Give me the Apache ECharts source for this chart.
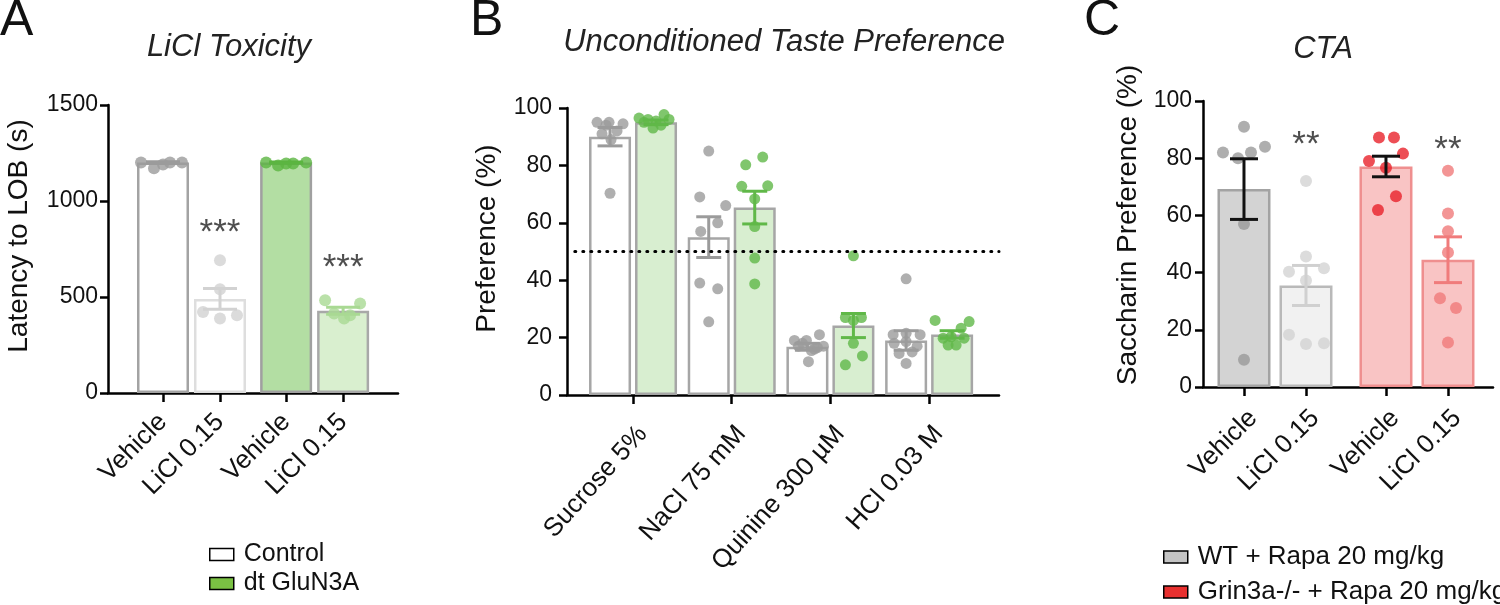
<!DOCTYPE html>
<html>
<head>
<meta charset="utf-8">
<script src="https://cdn.jsdelivr.net/npm/echarts@6/dist/echarts.min.js"></script>
<style>
html,body{margin:0;padding:0;background:#fff;}
#main{width:1500px;height:605px;}
</style>
</head>
<body>
<div id="main"></div>
<script>
/* ---------- A: LiCl toxicity ---------- */
var labelsA = ["Vehicle", "LiCl 0.15", "Vehicle", "LiCl 0.15"];
var meanA = [1200, 490, 1200, 428];
var semA = [4, 54, 3, 18];
var ptsA = [
	[1200, 1170, 1190, 1200, 1200],
	[692, 540, 422, 405, 388],
	[1200, 1185, 1195, 1200, 1195],
	[483, 466, 414, 388, 405]
];
var jitA = [
	[-22, -9, 0, 7, 19],
	[0, 0, -17, 17, 0],
	[-20, -8, 7, 20, 0],
	[-18, 17, -9, 1, 7]
];
var starsA = ["", "***", "", "***"];
var starValA = [0, 830, 0, 648];

/* ---------- B: unconditioned taste preference ---------- */
var labelsB = ["Sucrose 5%", "NaCl 75 mM", "Quinine 300 µM", "HCl 0.03 M"];
var meanCtrlB = [90, 55, 16.8, 19];
var semCtrlB = [3.2, 7.1, 1.2, 3.4];
var meanGreenB = [95, 65.3, 24.2, 21.1];
var semGreenB = [0.8, 5.7, 4.2, 1.3];
var ptsCtrlB = [
	[95, 95, 94.5, 94, 92, 91, 89, 70.3],
	[85, 69, 66, 60, 57, 39, 37, 25.5],
	[19, 19, 21, 17, 16, 17, 15.5, 11.6, 18, 16.5],
	[40.5, 21, 21.5, 21, 18, 17, 18.6, 14.5, 15, 11]
];
var jitCtrlB = [
	[-13, -1, 13, -4, 7, -8, 1, 0],
	[0, -9, 17, 9, -8, -9, 9, 0],
	[-13, -1, 12, -9, 7, 16, 4, 1, -5, 10],
	[0, -13, 0, 14, -12, 11, 0, -7, 6, 0]
];
var ptsGreenB = [
	[96.5, 96, 95.5, 97.7, 96, 93, 94, 95],
	[80.2, 82.9, 72.7, 72.9, 68.3, 58.7, 47.7, 38.7],
	[48.5, 27, 27, 26, 18, 13.6, 10.5],
	[26, 25.6, 23.3, 19.8, 20.3, 19.8, 17.4, 17.4]
];
var jitGreenB = [
	[-17, -8, 0, 8, 13, -3, 5, -12],
	[-9, 8, -13, 13, 0, 0, 0, 0],
	[0, -8, 8, 0, 0, 9, -8],
	[-17, 17, 9, -9, -1, 12, -4, 4]
];
var chanceB = 50;

/* ---------- C: CTA ---------- */
var labelsC = ["Vehicle", "LiCl 0.15", "Vehicle", "LiCl 0.15"];
var meanC = [69.2, 35.5, 77.1, 44.5];
var semC = [10.6, 7, 3.6, 8];
var ptsC = [
	[91, 82, 80, 82, 84, 57, 9.5],
	[72, 45.6, 40.3, 41.5, 37.2, 18.3, 15, 15.3],
	[87.2, 87.2, 79, 81.6, 76.7, 66.7, 61.9],
	[75.6, 60.7, 54.5, 47, 31, 27.6, 15.6]
];
var jitC = [
	[0, -21, -6, 7, 21, 0, 0],
	[0, 0, -17, 18, 0, -17, 0, 18],
	[-7, 8, -17, 17, 0, 10, -8],
	[0, 0, 0, 0, -8, 8, 0]
];
var starsC = ["", "**", "", "**"];
var starValC = [0, 84.5, 0, 82.8];

/* ---------- layout / style ---------- */
var FONT = "Liberation Sans, Arial, Helvetica, sans-serif";
var posA = [0, 1, 2.16, 3.16], unitA = 57;
var posB = [0, 1, 2, 3], unitB = 98.7, offB = 0.233;
var posC = [0, 1, 2.29, 3.29], unitC = 62;

var fillA = ["#ffffff", "#ffffff", "#b3dea3", "#d9efcf"];
var borderA = ["#a3a3a3", "#dedede", "#a0a0a0", "#a8a8a8"];
var dotA = ["#9b9b9b", "#d2d2d2", "#5bb541", "#a9d993"];
var fillC = ["#d3d3d3", "#f1f1f1", "#f9c4c4", "#f9c4c4"];
var borderC = ["#a3a3a3", "#b9b9b9", "#ef8f8f", "#ef8f8f"];
var dotC = ["#9a9a9a", "#d3d3d3", "#e8222b", "#f07b7b"];
var errC = ["#111111", "#d0d0d0", "#111111", "#f07b7b"];

var grids = [
	{left: 108, top: 105, width: 290, height: 288},
	{left: 567, top: 108, width: 432, height: 287},
	{left: 1203, top: 101, width: 290, height: 286}
];

// lab: label style overrides (rotate, size, margin, vertical align)
function xAxisOf(gi, pos, labels, min, max, lab) {
	return {
		type: "value", gridIndex: gi, min: min, max: max,
		axisLine: {show: true, onZero: false, lineStyle: {color: "#000", width: 2.5}},
		axisTick: {show: true, length: 9, customValues: pos, lineStyle: {color: "#000", width: 2.5}},
		axisLabel: {
			customValues: pos, rotate: lab.rotate, margin: lab.margin, fontSize: lab.size,
			verticalAlign: lab.valign, color: "#111", fontFamily: FONT,
			formatter: function (v) {
				for (var i = 0; i < pos.length; i++) {
					if (Math.abs(pos[i] - v) < 0.01) return labels[i];
				}
				return "";
			}
		},
		splitLine: {show: false}
	};
}

function yAxisOf(gi, max, interval, name, gap, lift, margin) {
	return {
		type: "value", gridIndex: gi, min: 0, max: max, interval: interval,
		name: name, nameLocation: "middle", nameGap: gap,
		nameTextStyle: {fontSize: 28, color: "#111", fontFamily: FONT, padding: [0, 0, 0, lift * 2]},
		axisLine: {show: true, onZero: false, lineStyle: {color: "#000", width: 2.5}},
		axisTick: {show: true, length: 8, lineStyle: {color: "#000", width: 2.5}},
		axisLabel: {fontSize: 23, color: "#111", fontFamily: FONT, margin: margin,
			formatter: function (v) { return String(v); }},
		splitLine: {show: false}
	};
}

// bar + points + error bar for one group
var series = [];
var barSets = {};
function addGroup(gi, legendName, x, mean, sem, pts, jit, unit, fill, border, dot, err, dotSize, capPx) {
	var key = gi + "|" + legendName;
	if (!barSets[key]) {
		barSets[key] = {
			type: "bar", name: legendName, xAxisIndex: gi, yAxisIndex: gi,
			barWidth: [52, 42, 53][gi], barGap: "-100%", z: 2, data: []
		};
		series.push(barSets[key]);
	}
	barSets[key].data.push({value: [x, mean], itemStyle: {color: fill, borderColor: border, borderWidth: 2.5}});
	var d = [];
	for (var i = 0; i < pts.length; i++) {
		d.push({value: [x + jit[i] / unit, pts[i]], itemStyle: {color: dot}});
	}
	series.push({
		type: "scatter", name: "pts" + gi, xAxisIndex: gi, yAxisIndex: gi,
		symbolSize: dotSize, z: 3, data: d, silent: true
	});
	series.push({
		type: "custom", name: "err" + gi, xAxisIndex: gi, yAxisIndex: gi, z: 4, silent: true,
		encode: {x: 0, y: [1, 2]},
		data: [{value: [x, mean - sem, mean + sem], itemStyle: {color: err}}],
		renderItem: function (params, api) {
			var lo = api.coord([api.value(0), api.value(1)]);
			var hi = api.coord([api.value(0), api.value(2)]);
			var c = api.visual("color");
			var st = {stroke: c, lineWidth: 3};
			var w = capPx / 2;
			return {type: "group", children: [
				{type: "line", shape: {x1: hi[0], y1: hi[1], x2: lo[0], y2: lo[1]}, style: st},
				{type: "line", shape: {x1: hi[0] - w, y1: hi[1], x2: hi[0] + w, y2: hi[1]}, style: st},
				{type: "line", shape: {x1: lo[0] - w, y1: lo[1], x2: lo[0] + w, y2: lo[1]}, style: st}
			]};
		}
	});
}

function addStars(gi, pos, stars, vals) {
	var d = [];
	for (var i = 0; i < stars.length; i++) {
		if (stars[i] != "") d.push({value: [pos[i], vals[i]], label: {formatter: stars[i]}});
	}
	series.push({
		type: "scatter", name: "stars" + gi, xAxisIndex: gi, yAxisIndex: gi, silent: true,
		symbolSize: 1, itemStyle: {color: "rgba(0,0,0,0)"}, z: 5,
		label: {show: true, position: "inside", fontSize: 35, color: "#222", fontFamily: FONT},
		data: d
	});
}

// A
for (var i = 0; i < 4; i++) {
	addGroup(0, i < 2 ? "Control" : "dt GluN3A", posA[i], meanA[i], semA[i], ptsA[i], jitA[i], unitA,
		fillA[i], borderA[i], dotA[i], dotA[i], 12, 34);
}
addStars(0, posA, starsA, starValA);

// B
for (var i = 0; i < 4; i++) {
	addGroup(1, "Control", posB[i] - offB, meanCtrlB[i], semCtrlB[i], ptsCtrlB[i], jitCtrlB[i], unitB,
		"#ffffff", "#a6a6a6", "#9b9b9b", "#9b9b9b", 11, 25);
	addGroup(1, "dt GluN3A", posB[i] + offB, meanGreenB[i], semGreenB[i], ptsGreenB[i], jitGreenB[i], unitB,
		"#d8eed0", "#a6a6a6", "#60b848", "#60b848", 11, 25);
}
barSets["1|Control"].markLine = {
	silent: true, symbol: "none", animation: false,
	label: {show: false},
	lineStyle: {type: [1, 7], width: 3, cap: "round", color: "#000"},
	data: [[{coord: [-0.59, chanceB]}, {coord: [3.708, chanceB]}]]
};

// C
for (var i = 0; i < 4; i++) {
	addGroup(2, i < 2 ? "WT + Rapa 20 mg/kg" : "Grin3a-/- + Rapa 20 mg/kg", posC[i], meanC[i], semC[i], ptsC[i], jitC[i], unitC,
		fillC[i], borderC[i], dotC[i], errC[i], 12, 28);
}
addStars(2, posC, starsC, starValC);

var titleStyle = {fontSize: 31, fontStyle: "italic", fontWeight: "normal", color: "#222", fontFamily: FONT};
var letterStyle = {fontSize: 50, fontWeight: "normal", color: "#111", fontFamily: FONT};

var option = {
	animation: false,
	backgroundColor: "#fff",
	title: [
		{text: "A", left: 0, top: -4, padding: 0, textStyle: letterStyle},
		{text: "B", left: 470, top: -4, padding: 0, textStyle: letterStyle},
		{text: "C", left: 1084, top: -4, padding: 0, textStyle: letterStyle},
		{text: "LiCl Toxicity", left: 229, top: 32, padding: 0, textAlign: "center", textStyle: titleStyle},
		{text: "Unconditioned Taste Preference", left: 784, top: 27, padding: 0, textAlign: "center", textStyle: titleStyle},
		{text: "CTA", left: 1323, top: 34, padding: 0, textAlign: "center", textStyle: titleStyle}
	],
	legend: [
		{
			orient: "vertical", left: 209, top: 542, padding: 0, itemGap: 4,
			itemWidth: 24, itemHeight: 12, icon: "rect", selectedMode: false,
			textStyle: {fontSize: 25, color: "#111", fontFamily: FONT, padding: [0, 0, 0, 5]},
			data: [
				{name: "Control", itemStyle: {color: "#ffffff", borderColor: "#000", borderWidth: 1.5}},
				{name: "dt GluN3A", itemStyle: {color: "#7ac143", borderColor: "#000", borderWidth: 1.5}}
			]
		},
		{
			orient: "vertical", left: 1163, top: 544, padding: 0, itemGap: 9,
			itemWidth: 24, itemHeight: 12, icon: "rect", selectedMode: false,
			textStyle: {fontSize: 26, color: "#111", fontFamily: FONT, padding: [0, 0, 0, 5]},
			data: [
				{name: "WT + Rapa 20 mg/kg", itemStyle: {color: "#c4c4c4", borderColor: "#000", borderWidth: 1.5}},
				{name: "Grin3a-/- + Rapa 20 mg/kg", itemStyle: {color: "#e8302f", borderColor: "#000", borderWidth: 1.5}}
			]
		}
	],
	grid: grids,
	xAxis: [
		xAxisOf(0, posA, labelsA, -0.965, 4.123, {rotate: 45, size: 26, margin: 25, valign: "middle"}),
		xAxisOf(1, posB, labelsB, -0.669, 3.708, {rotate: 48, size: 26, margin: 26, valign: "top"}),
		xAxisOf(2, posC, labelsC, -0.661, 4.016, {rotate: 45, size: 26, margin: 18, valign: "top"})
	],
	yAxis: [
		yAxisOf(0, 1500, 500, "Latency to LOB (s)", 75, 13, 10),
		yAxisOf(1, 100, 20, "Preference (%)", 66, 13, 15),
		yAxisOf(2, 100, 20, "Saccharin Preference (%)", 61, 19, 11)
	],
	series: series
};

var myChart = echarts.init(document.getElementById("main"));
myChart.setOption(option);
</script>
</body>
</html>
